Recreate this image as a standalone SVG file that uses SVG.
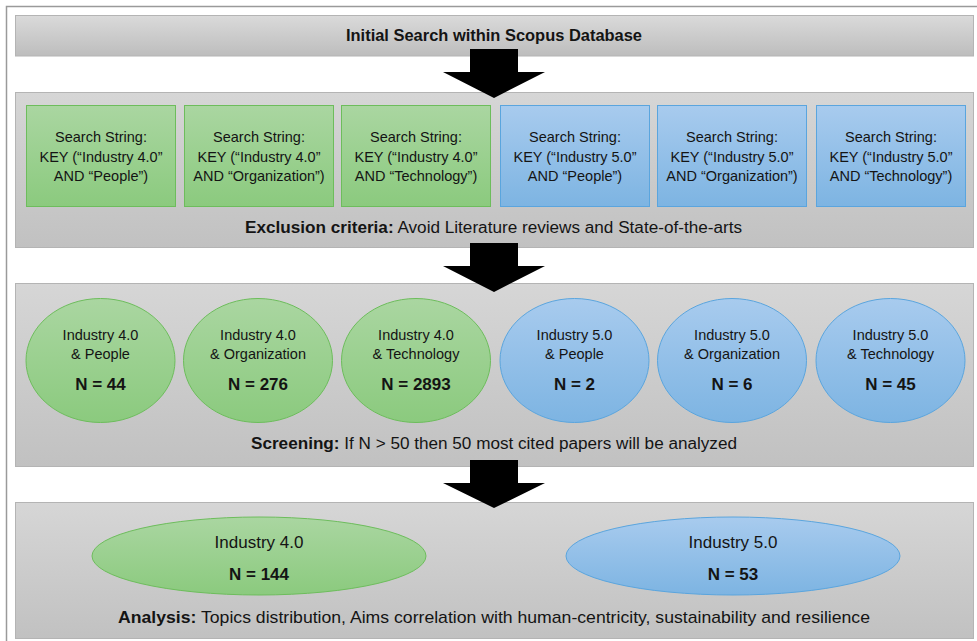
<svg xmlns="http://www.w3.org/2000/svg" width="977" height="641" viewBox="0 0 977 641">
  <defs>
    <linearGradient id="gGrey" x1="0" y1="0" x2="0" y2="1">
      <stop offset="0" stop-color="#d6d6d6"/>
      <stop offset="1" stop-color="#c1c1c1"/>
    </linearGradient>
    <linearGradient id="gBar" x1="0" y1="0" x2="0" y2="1">
      <stop offset="0" stop-color="#dadada"/>
      <stop offset="1" stop-color="#bdbdbd"/>
    </linearGradient>
    <linearGradient id="gGreen" x1="0" y1="0" x2="0" y2="1">
      <stop offset="0" stop-color="#aad6a1"/>
      <stop offset="1" stop-color="#8bca7e"/>
    </linearGradient>
    <linearGradient id="gBlue" x1="0" y1="0" x2="0" y2="1">
      <stop offset="0" stop-color="#a8cbee"/>
      <stop offset="1" stop-color="#7db4e2"/>
    </linearGradient>
  </defs>
  <style>
    .panel { fill: url(#gGrey); stroke: #b4b4b4; stroke-width: 1; }
    .bar { fill: url(#gBar); stroke: #b4b4b4; stroke-width: 1; }
    .green { fill: url(#gGreen); stroke: #6dbd5c; stroke-width: 1; }
    .blue { fill: url(#gBlue); stroke: #5aa5de; stroke-width: 1; }
    text { font-family: "Liberation Sans", Arial, sans-serif; fill: #141414; text-anchor: middle; }
    .t { font-size: 14.5px; }
    .n { font-size: 17px; font-weight: bold; }
    .cap { font-size: 16px; }
    .b { font-weight: bold; }
    .big { font-size: 17px; }
    .arrow { fill: #000; }
  </style>

  <rect width="977" height="641" fill="#fff"/>
  <!-- outer frame -->
  <rect x="6.5" y="6.5" width="975" height="650" fill="none" stroke="#9a9a9a" stroke-width="1.5"/>

  <!-- stage 1: search title -->
  <g id="stage-search">
    <rect class="bar" x="15.5" y="15.5" width="958" height="40.5"/>
    <text class="cap b" x="494" y="41" textLength="296" lengthAdjust="spacingAndGlyphs">Initial Search within Scopus Database</text>
  </g>

  <!-- stage 2: search strings -->
  <g id="stage-strings">
    <rect class="panel" x="15.5" y="92.5" width="958" height="155"/>
    <text class="cap" x="493.5" y="233" textLength="497" lengthAdjust="spacingAndGlyphs"><tspan class="b">Exclusion  criteria:</tspan> Avoid Literature reviews and State-of-the-arts</text>
  </g>
  <g id="s40-people">
    <rect class="green" x="26.5" y="105.5" width="149" height="101"/>
    <text class="t" x="101" y="142">Search String:</text>
    <text class="t" x="101" y="162">KEY (“Industry 4.0”</text>
    <text class="t" x="101" y="181">AND “People”)</text>
  </g>
  <g id="s40-org">
    <rect class="green" x="184.5" y="105.5" width="149" height="101"/>
    <text class="t" x="259" y="142">Search String:</text>
    <text class="t" x="259" y="162">KEY (“Industry 4.0”</text>
    <text class="t" x="259" y="181">AND “Organization”)</text>
  </g>
  <g id="s40-tech">
    <rect class="green" x="341.5" y="105.5" width="149" height="101"/>
    <text class="t" x="416" y="142">Search String:</text>
    <text class="t" x="416" y="162">KEY (“Industry 4.0”</text>
    <text class="t" x="416" y="181">AND “Technology”)</text>
  </g>
  <g id="s50-people">
    <rect class="blue" x="500.5" y="105.5" width="149" height="101"/>
    <text class="t" x="575" y="142">Search String:</text>
    <text class="t" x="575" y="162">KEY (“Industry 5.0”</text>
    <text class="t" x="575" y="181">AND “People”)</text>
  </g>
  <g id="s50-org">
    <rect class="blue" x="657.5" y="105.5" width="149" height="101"/>
    <text class="t" x="732" y="142">Search String:</text>
    <text class="t" x="732" y="162">KEY (“Industry 5.0”</text>
    <text class="t" x="732" y="181">AND “Organization”)</text>
  </g>
  <g id="s50-tech">
    <rect class="blue" x="816.5" y="105.5" width="149" height="101"/>
    <text class="t" x="891" y="142">Search String:</text>
    <text class="t" x="891" y="162">KEY (“Industry 5.0”</text>
    <text class="t" x="891" y="181">AND “Technology”)</text>
  </g>

  <!-- stage 3: screening -->
  <g id="stage-screening">
    <rect class="panel" x="15.5" y="283.5" width="958" height="183"/>
    <text class="cap" x="494" y="449" textLength="486" lengthAdjust="spacingAndGlyphs"><tspan class="b">Screening:</tspan> If N &gt; 50 then 50 most cited papers will be analyzed</text>
  </g>
  <g id="r40-people">
    <ellipse class="green" cx="100.5" cy="360.5" rx="74.5" ry="62"/>
    <text class="t" x="100.5" y="340">Industry 4.0</text>
    <text class="t" x="100.5" y="359">&amp; People</text>
    <text class="n" x="100.5" y="390">N = 44</text>
  </g>
  <g id="r40-org">
    <ellipse class="green" cx="258" cy="360.5" rx="74.5" ry="62"/>
    <text class="t" x="258" y="340">Industry 4.0</text>
    <text class="t" x="258" y="359">&amp; Organization</text>
    <text class="n" x="258" y="390">N = 276</text>
  </g>
  <g id="r40-tech">
    <ellipse class="green" cx="416" cy="360.5" rx="74.5" ry="62"/>
    <text class="t" x="416" y="340">Industry 4.0</text>
    <text class="t" x="416" y="359">&amp; Technology</text>
    <text class="n" x="416" y="390">N = 2893</text>
  </g>
  <g id="r50-people">
    <ellipse class="blue" cx="574.5" cy="360.5" rx="74.5" ry="62"/>
    <text class="t" x="574.5" y="340">Industry 5.0</text>
    <text class="t" x="574.5" y="359">&amp; People</text>
    <text class="n" x="574.5" y="390">N = 2</text>
  </g>
  <g id="r50-org">
    <ellipse class="blue" cx="732" cy="360.5" rx="74.5" ry="62"/>
    <text class="t" x="732" y="340">Industry 5.0</text>
    <text class="t" x="732" y="359">&amp; Organization</text>
    <text class="n" x="732" y="390">N = 6</text>
  </g>
  <g id="r50-tech">
    <ellipse class="blue" cx="890.5" cy="360.5" rx="74.5" ry="62"/>
    <text class="t" x="890.5" y="340">Industry 5.0</text>
    <text class="t" x="890.5" y="359">&amp; Technology</text>
    <text class="n" x="890.5" y="390">N = 45</text>
  </g>

  <!-- stage 4: analysis -->
  <g id="stage-analysis">
    <rect class="panel" x="15.5" y="502.5" width="958" height="136"/>
    <text class="big" x="494" y="623" textLength="752" lengthAdjust="spacingAndGlyphs"><tspan class="b">Analysis:</tspan> Topics distribution, Aims correlation with human-centricity, sustainability and resilience</text>
  </g>
  <g id="a40">
    <ellipse class="green" cx="259" cy="556" rx="167" ry="39"/>
    <text class="big" x="259" y="548">Industry 4.0</text>
    <text class="n" x="259" y="580">N = 144</text>
  </g>
  <g id="a50">
    <ellipse class="blue" cx="733" cy="556" rx="167" ry="39"/>
    <text class="big" x="733" y="548">Industry 5.0</text>
    <text class="n" x="733" y="580">N = 53</text>
  </g>

  <!-- block arrows between stages -->
  <g id="connectors">
    <polygon class="arrow" points="470,49 518,49 518,72 545,72 494,98 443,72 470,72"/>
    <polygon class="arrow" points="470,243 518,243 518,266 545,266 494,292 443,266 470,266"/>
    <polygon class="arrow" points="470,460 518,460 518,483 545,483 494,508 443,483 470,483"/>
  </g>
</svg>
